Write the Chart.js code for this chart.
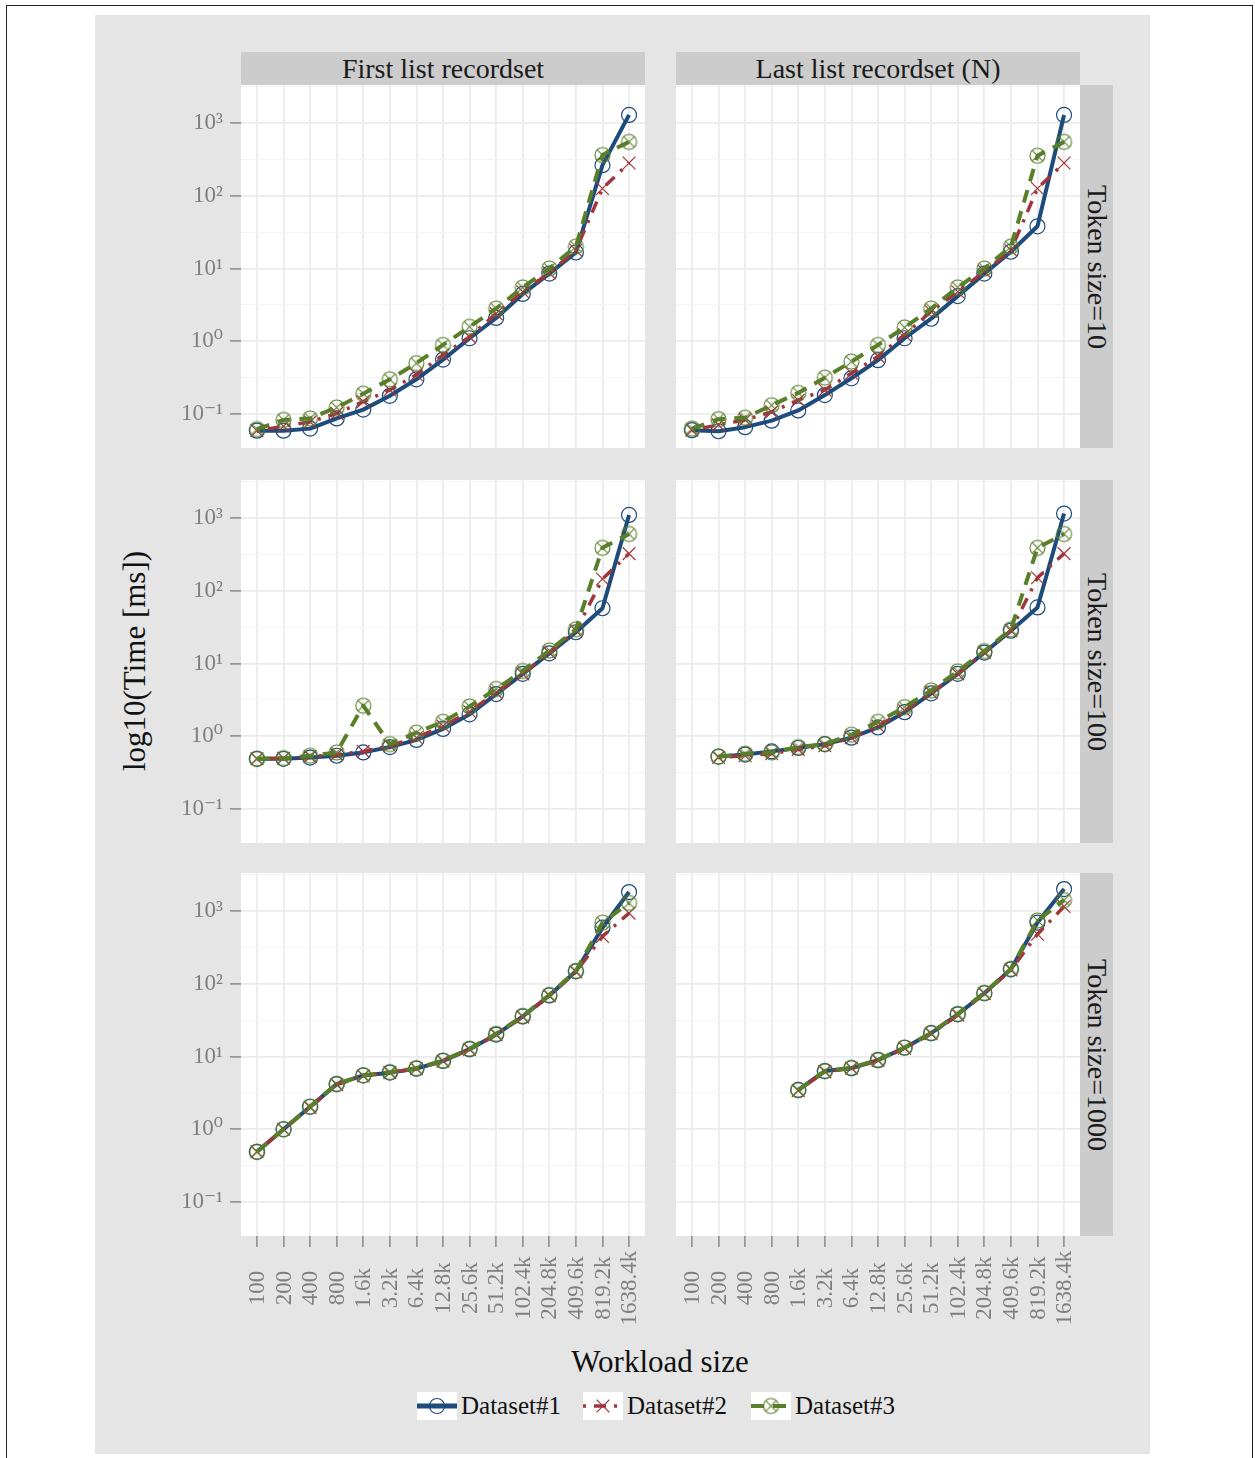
<!DOCTYPE html>
<html>
<head>
<meta charset="utf-8">
<script src="https://cdn.jsdelivr.net/npm/chart.js@4.4.0/dist/chart.umd.min.js"></script>
<style>
body{margin:0;width:1255px;height:1458px;background:#fff;position:relative;overflow:hidden;font-family:'Liberation Serif','DejaVu Serif',serif}
.abs{position:absolute}
#frame{left:6px;top:5px;width:1247px;height:1480px;border:1.5px solid #222;box-sizing:border-box}
#bg{left:95px;top:15px;width:1055px;height:1439px;background:#e5e5e5}
.strip{background:#cccccc;color:#1a1a1a;font-size:28px;display:flex;align-items:center;justify-content:center;white-space:nowrap}
.title{color:#111;font-size:31px;white-space:nowrap}
.legtxt{color:#111;font-size:25px;white-space:nowrap;line-height:28px}
canvas{position:absolute}
</style>
</head>
<body>
<div id="frame" class="abs"></div>
<div id="bg" class="abs"></div>
<script>
// facet chart: time vs workload, 3 token sizes x 2 list variants

const workloads = ['100','200','400','800','1.6k','3.2k','6.4k','12.8k','25.6k','51.2k','102.4k','204.8k','409.6k','819.2k','1638.4k']
const columns = ['First list recordset', 'Last list recordset (N)']
const rows = ['Token size=10', 'Token size=100', 'Token size=1000']
const seriesNames = ['Dataset#1', 'Dataset#2', 'Dataset#3']
const yTickPowers = [-1, 0, 1, 2, 3]

// time [ms]
const first10_ds1 = [0.059,0.059,0.063,0.087,0.115,0.178,0.30,0.56,1.10,2.09,4.47,8.5,16.6,263,1290]
const first10_ds2 = [0.059,0.068,0.078,0.102,0.148,0.214,0.347,0.65,1.15,2.40,4.79,8.7,17.8,126,282]
const first10_ds3 = [0.062,0.083,0.087,0.123,0.190,0.30,0.50,0.89,1.58,2.82,5.50,10.0,20.0,363,550]

const last10_ds1 = [0.060,0.058,0.066,0.081,0.112,0.182,0.31,0.55,1.10,2.04,4.17,8.5,17.0,38,1290]
const last10_ds2 = [0.060,0.071,0.083,0.107,0.155,0.214,0.363,0.62,1.23,2.57,4.79,9.1,17.8,126,282]
const last10_ds3 = [0.063,0.085,0.089,0.132,0.195,0.316,0.525,0.89,1.55,2.82,5.50,10.0,20.0,355,550]

const first100_ds1 = [0.49,0.49,0.51,0.54,0.60,0.71,0.89,1.26,2.00,3.80,7.2,13.8,26.9,57.5,1100]
const first100_ds2 = [0.49,0.50,0.525,0.56,0.62,0.74,0.955,1.38,2.19,3.98,7.2,14.1,28.2,145,324]
const first100_ds3 = [0.49,0.50,0.54,0.60,2.63,0.78,1.12,1.58,2.57,4.47,7.9,15.1,29.5,389,603]

const last100_ds1 = [null,0.525,0.56,0.62,0.69,0.78,0.955,1.32,2.14,3.89,7.2,14.1,28.2,58.9,1150]
const last100_ds2 = [null,0.51,0.54,0.575,0.66,0.74,0.955,1.38,2.24,3.98,7.2,14.1,28.2,151,324]
const last100_ds3 = [null,0.525,0.575,0.60,0.71,0.78,1.05,1.58,2.51,4.27,7.8,14.8,29.5,389,603]

const first1000_ds1 = [0.49,1.00,2.04,4.17,5.5,6.0,6.8,8.7,12.6,20.0,35.5,69,148,589,1820]
const first1000_ds2 = [0.49,1.00,2.00,4.10,5.4,6.0,6.8,8.6,12.5,20.0,35.0,68,145,447,933]
const first1000_ds3 = [0.49,1.00,2.05,4.20,5.5,6.1,6.9,8.8,12.8,20.5,36.0,70,150,692,1290]

const last1000_ds1 = [null,null,null,null,3.47,6.3,6.9,8.9,13.2,20.9,38,74,158,692,2000]
const last1000_ds2 = [null,null,null,null,3.40,6.2,6.9,8.8,13.0,20.5,37,73,155,479,1150]
const last1000_ds3 = [null,null,null,null,3.45,6.3,7.0,9.0,13.3,21.0,38.5,75,160,741,1410]

const panels = [
  [[first10_ds1, first10_ds2, first10_ds3], [last10_ds1, last10_ds2, last10_ds3]],
  [[first100_ds1, first100_ds2, first100_ds3], [last100_ds1, last100_ds2, last100_ds3]],
  [[first1000_ds1, first1000_ds2, first1000_ds3], [last1000_ds1, last1000_ds2, last1000_ds3]]
]

// styling
const colors = ['#1d4b7b', '#a0363b', '#5a7f2b']
const widths = [4, 3.5, 4]
const dashes = [[], [3, 8, 12, 8], [13, 9]]
const plotLeft = [241, 676]
const plotTop = [85, 480, 873]
const plotW = 404, plotH = 363
const yAxisW = [61, 0]
const padT = 30
const fontFam = "'Liberation Serif','DejaVu Serif',serif"

// the log10 grid: majors at whole powers, minors halfway
const gridPowers = []
yTickPowers.forEach(p => { gridPowers.push(p); gridPowers.push(p + 0.5) })
const isMajor = v => { const l = Math.log10(v); return Math.abs(l - Math.round(l)) < 1e-6 }
const sup = {'-': '\u207B', '0': '\u2070', '1': '\u00B9', '2': '\u00B2', '3': '\u00B3'}
const powLabel = p => '10' + String(p).split('').map(ch => sup[ch]).join('')

function circleX(color, r) {
  const c = document.createElement('canvas')
  const s = Math.ceil(2 * r + 4)
  c.width = c.height = s
  const g = c.getContext('2d')
  g.strokeStyle = color
  g.lineWidth = 1.1
  g.beginPath(); g.arc(s / 2, s / 2, r, 0, 2 * Math.PI); g.stroke()
  const d = r * 0.72
  g.beginPath()
  g.moveTo(s / 2 - d, s / 2 - d); g.lineTo(s / 2 + d, s / 2 + d)
  g.moveTo(s / 2 + d, s / 2 - d); g.lineTo(s / 2 - d, s / 2 + d)
  g.stroke()
  return c
}
const greenMark = circleX(colors[2], 7.5)
const pointStyles = ['circle', 'crossRot', greenMark]
const pointRadii = [7.5, 9, 7.5]

const whiteBg = {
  id: 'whiteBg',
  beforeDraw(chart) {
    const a = chart.chartArea, g = chart.ctx
    g.save(); g.fillStyle = '#fff'; g.fillRect(a.left, a.top, a.right - a.left, a.bottom - a.top); g.restore()
  }
}
const xLabels = {
  id: 'xLabels',
  afterDraw(chart) {
    const g = chart.ctx, sx = chart.scales.x, a = chart.chartArea
    g.save()
    g.font = '23px ' + fontFam
    g.fillStyle = '#7f7f7f'
    g.textAlign = 'center'
    g.textBaseline = 'middle'
    workloads.forEach((w, i) => {
      g.save()
      g.translate(sx.getPixelForValue(i), a.bottom + 52)
      g.rotate(-Math.PI / 2)
      g.fillText(w, 0, 1)
      g.restore()
    })
    g.restore()
  }
}

function makePanel(r, c) {
  const last = r == rows.length - 1
  const cv = document.createElement('canvas')
  const w = yAxisW[c] + plotW
  const h = padT + plotH + (last ? 100 : 30)
  cv.width = w; cv.height = h
  cv.style.left = (plotLeft[c] - yAxisW[c]) + 'px'
  cv.style.top = (plotTop[r] - padT) + 'px'
  document.body.appendChild(cv)

  const sets = panels[r][c].map((vals, k) => ({
    label: seriesNames[k],
    data: vals.map((v, i) => ({x: i, y: v})),
    borderColor: colors[k],
    borderWidth: widths[k],
    borderDash: dashes[k],
    borderCapStyle: 'butt',
    borderJoinStyle: 'round',
    tension: 0,
    pointStyle: pointStyles[k],
    pointRadius: pointRadii[k],
    pointBorderWidth: 1.2,
    pointBorderColor: colors[k],
    pointBackgroundColor: 'rgba(0,0,0,0)',
    order: 3 - k
  }))

  new Chart(cv, {
    type: 'line',
    data: {datasets: sets},
    options: {
      responsive: false,
      animation: false,
      devicePixelRatio: 1,
      layout: {autoPadding: false, padding: {top: padT, bottom: last ? 0 : 30, left: 0, right: 0}},
      plugins: {legend: {display: false}, tooltip: {enabled: false}},
      scales: {
        x: {
          type: 'linear', min: -0.6, max: workloads.length - 0.4,
          afterBuildTicks: s => { s.ticks = workloads.map((wl, i) => ({value: i})) },
          afterFit: s => { s.height = last ? 100 : 0 },
          ticks: {display: false, autoSkip: false},
          border: {display: false},
          grid: {color: '#ebebeb', lineWidth: 1.8, drawTicks: last, tickLength: 11, tickColor: '#8a8a8a', tickWidth: 1.5}
        },
        y: {
          type: 'logarithmic', min: Math.pow(10, -1.467), max: Math.pow(10, 3.522),
          afterBuildTicks: s => { s.ticks = gridPowers.map(p => ({value: Math.pow(10, p)})) },
          afterFit: s => { s.width = yAxisW[c] },
          ticks: {
            display: c == 0, autoSkip: false, padding: 7,
            font: {family: fontFam, size: 23}, color: '#7f7f7f',
            callback: v => isMajor(v) ? powLabel(Math.round(Math.log10(v))) : ''
          },
          border: {display: false},
          grid: {
            color: ctx => isMajor(ctx.tick.value) ? '#ebebeb' : '#f3f3f3',
            lineWidth: ctx => isMajor(ctx.tick.value) ? 1.8 : 1,
            drawTicks: c == 0, tickLength: 11, tickWidth: 1.5,
            tickColor: ctx => isMajor(ctx.tick.value) ? '#8a8a8a' : 'rgba(0,0,0,0)'
          }
        }
      }
    },
    plugins: last ? [whiteBg, xLabels] : [whiteBg]
  })
}

function addDiv(cls, css, html) {
  const d = document.createElement('div')
  d.className = 'abs ' + cls
  Object.assign(d.style, css)
  d.innerHTML = html
  document.body.appendChild(d)
  return d
}

// strips
columns.forEach((t, c) => {
  addDiv('strip', {left: plotLeft[c] + 'px', top: '52px', width: plotW + 'px', height: '33px'}, '<span>' + t + '</span>')
})
rows.forEach((t, r) => {
  addDiv('strip', {left: '1080px', top: plotTop[r] + 'px', width: '33px', height: plotH + 'px'},
    '<span style="transform:rotate(90deg);display:inline-block">' + t + '</span>')
})

for (let r = 0; r < rows.length; r++) for (let c = 0; c < columns.length; c++) makePanel(r, c)

// axis titles
addDiv('title', {left: '135px', top: '661px', transform: 'translate(-50%,-50%) rotate(-90deg)'}, 'log10(Time [ms])')
addDiv('title', {left: '660px', top: '1362px', transform: 'translate(-50%,-50%)'}, 'Workload size')

// legend
const keyX = [417, 583, 751]
seriesNames.forEach((name, k) => {
  const cv = document.createElement('canvas')
  cv.width = 40; cv.height = 28
  cv.style.left = keyX[k] + 'px'; cv.style.top = '1392px'
  document.body.appendChild(cv)
  const g = cv.getContext('2d')
  g.fillStyle = '#fff'; g.fillRect(0, 0, 40, 28)
  g.strokeStyle = colors[k]; g.lineWidth = widths[k] + (k == 0 ? 1 : 0)
  g.setLineDash(dashes[k])
  g.beginPath(); g.moveTo(0, 14); g.lineTo(40, 14); g.stroke()
  g.setLineDash([])
  g.lineWidth = 1.2
  if (k == 0) {
    g.beginPath(); g.arc(20, 14, 7.5, 0, 2 * Math.PI); g.stroke()
  } else if (k == 1) {
    const d = 6.4
    g.beginPath(); g.moveTo(20 - d, 14 - d); g.lineTo(20 + d, 14 + d); g.moveTo(20 + d, 14 - d); g.lineTo(20 - d, 14 + d); g.stroke()
  } else {
    g.drawImage(greenMark, 20 - greenMark.width / 2, 14 - greenMark.height / 2)
  }
  addDiv('legtxt', {left: (keyX[k] + 44) + 'px', top: '1392px'}, name)
})
</script>
</body>
</html>
